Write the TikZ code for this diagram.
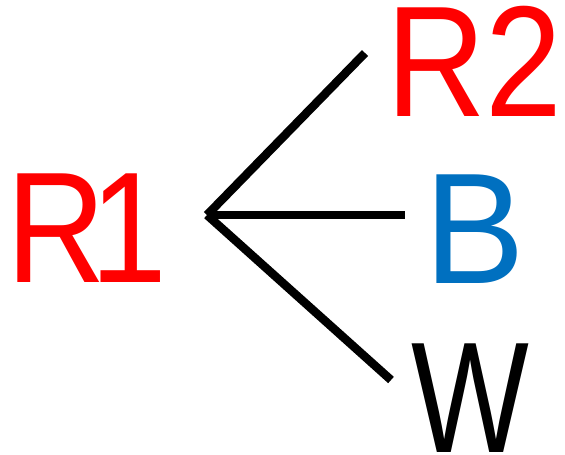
\documentclass[tikz,border=0pt]{standalone}
\usepackage{fontspec}
\setmainfont{Liberation Sans}
\definecolor{myred}{RGB}{255,0,0}
\definecolor{myblue}{RGB}{0,112,192}
\begin{document}
\begin{tikzpicture}[x=1pt,y=-1pt,
  lbl/.style={inner sep=0pt,anchor=base west,font=\fontsize{158}{158}\selectfont},
  conn/.style={line width=8.5pt,black}]
\useasboundingbox (0,0) rectangle (565,455);
\node[lbl,text=myred] (r1) at (6,282) {\scalebox{0.873}[1]{R\kern-18pt 1}};
\node[lbl,text=myred] (r2) at (386,116) {\scalebox{0.873}[1]{R2}};
\node[lbl,text=myblue] (b) at (424,283) {\scalebox{0.955}[1]{B}};
\node[lbl,text=black] (w) at (411,452) {\scalebox{0.79}[1]{W}};
\coordinate (j) at (207,215);
\coordinate (e1) at (365,53);
\coordinate (e2) at (405,215);
\coordinate (e3) at (391,380);
\draw[conn] (j) -- (e1);
\draw[conn] (j) -- (e2);
\draw[conn] (j) -- (e3);
\end{tikzpicture}
\end{document}
